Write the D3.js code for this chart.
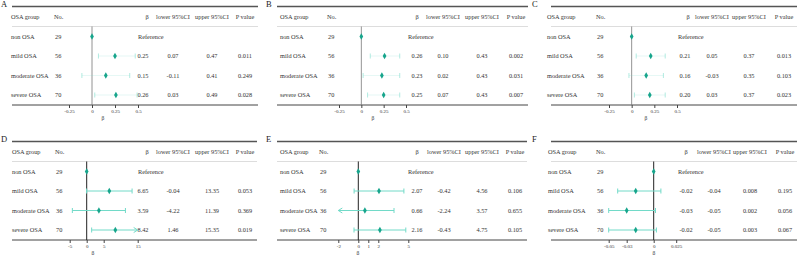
<!DOCTYPE html>
<html>
<head>
<meta charset="utf-8">
<script src="https://cdn.jsdelivr.net/npm/d3@7"></script>
<style>
  body { margin: 0; background: #fff; }
  svg text { font-family: "Liberation Serif", "Times New Roman", serif; fill: #333; }
</style>
</head>
<body>
<div id="chart"></div>
<script>
// ---- data ----
const groups = ["non OSA", "mild OSA", "moderate OSA", "severe OSA"];
const counts = [29, 56, 36, 70];
const panelNames = ["A", "B", "C", "D", "E", "F"];

// first row is the reference group (null)
const betaA = [null, 0.25, 0.15, 0.26];
const lowerA = [null, 0.07, -0.11, 0.03];
const upperA = [null, 0.47, 0.41, 0.49];
const pA = [null, "0.011", "0.249", "0.028"];

const betaB = [null, 0.26, 0.23, 0.25];
const lowerB = [null, 0.10, 0.02, 0.07];
const upperB = [null, 0.43, 0.43, 0.43];
const pB = [null, "0.002", "0.031", "0.007"];

const betaC = [null, 0.21, 0.16, 0.20];
const lowerC = [null, 0.05, -0.03, 0.03];
const upperC = [null, 0.37, 0.35, 0.37];
const pC = [null, "0.013", "0.103", "0.023"];

const betaD = [null, 6.65, 3.59, 8.42];
const lowerD = [null, -0.04, -4.22, 1.46];
const upperD = [null, 13.35, 11.39, 15.35];
const pD = [null, "0.053", "0.369", "0.019"];

const betaE = [null, 2.07, 0.66, 2.16];
const lowerE = [null, -0.42, -2.24, -0.43];
const upperE = [null, 4.56, 3.57, 4.75];
const pE = [null, "0.106", "0.655", "0.105"];

const betaF = [null, -0.02, -0.03, -0.02];
const lowerF = [null, -0.04, -0.05, -0.05];
const upperF = [null, 0.008, 0.002, 0.003];
const pF = [null, "0.195", "0.056", "0.067"];

const ticksAC = [-0.25, 0, 0.25, 0.5];
const ticksD = [-5, 0, 5, 15];
const ticksE = [-2, 0, 1, 2, 5];
const ticksF = [-0.05, -0.03, 0, 0.025];

const headers = ["OSA group", "No.", "β", "lower 95%CI", "upper 95%CI", "P value"];

// ---- layout (per panel) ----
const panels = [
  { name: "A", beta: betaA, lower: lowerA, upper: upperA, p: pA, ticks: ticksAC, domain: [-0.25, 0.5],
    ox: 0, oy: 0, fs: 6.3, rule: [12, 258], cGroup: 11, cNo: 54, range: [69, 138],
    hBeta: 147, cBeta: 143, cLow: 173, cUp: 212, cP: 245, refX: 138, titleX: 103, faint: true },
  { name: "B", beta: betaB, lower: lowerB, upper: upperB, p: pB, ticks: ticksAC, domain: [-0.25, 0.5],
    ox: 265, oy: 0, fs: 6.3, rule: [12, 263], cGroup: 15, cNo: 62, range: [74, 141],
    hBeta: 152, cBeta: 152, cLow: 178, cUp: 217, cP: 251, refX: 143, titleX: 108, faint: true },
  { name: "C", beta: betaC, lower: lowerC, upper: upperC, p: pC, ticks: ticksAC, domain: [-0.25, 0.5],
    ox: 531, oy: 0, fs: 6.3, rule: [20, 266], cGroup: 16, cNo: 65, range: [78, 146],
    hBeta: 157, cBeta: 154, cLow: 181, cUp: 218, cP: 253, refX: 147, titleX: 115, faint: true },
  { name: "D", beta: betaD, lower: lowerD, upper: upperD, p: pD, ticks: ticksD, domain: [-5, 15],
    ox: 0, oy: 135, fs: 6.3, rule: [12, 257], cGroup: 12, cNo: 55, range: [69.7, 137.7],
    hBeta: 147, cBeta: 143, cLow: 173, cUp: 212, cP: 245, refX: 138, titleX: 93, faint: false },
  { name: "E", beta: betaE, lower: lowerE, upper: upperE, p: pE, ticks: ticksE, domain: [-2, 5],
    ox: 265, oy: 135, fs: 6.3, rule: [12, 262], cGroup: 15, cNo: 54, range: [73.3, 143.3],
    hBeta: 152, cBeta: 152, cLow: 179, cUp: 217, cP: 250, refX: 143, titleX: 93, faint: false },
  { name: "F", beta: betaF, lower: lowerF, upper: upperF, p: pF, ticks: ticksF, domain: [-0.05, 0.025],
    ox: 531, oy: 135, fs: 6.3, rule: [20, 266], cGroup: 17, cNo: 65, range: [77.7, 145.2],
    hBeta: 155, cBeta: 155, cLow: 183, cUp: 219, cP: 254, refX: 147, titleX: 123, faint: false }
];

const W = 797, H = 255;
const rowY = [36.5, 56, 75.5, 95];
const topRule = 6.5, headY = 18.5, sepY = 26.5, bottomRule = 105;

const markColor = "#17a58c";
const ciColor = "#72dac8";

const svg = d3.select("#chart").append("svg")
  .attr("width", W)
  .attr("height", H);

function fmt(v) {
  return v.toFixed(2);
}

panels.forEach(cfg => {
  const g = svg.append("g").attr("transform", `translate(${cfg.ox},${cfg.oy})`);

  const x = d3.scaleLinear().domain(cfg.domain).range(cfg.range);

  // panel letter
  g.append("text")
    .attr("x", 1).attr("y", 6.5)
    .attr("font-size", 8.5)
    .style("fill", "#222")
    .text(cfg.name);

  // rules
  g.append("line")
    .attr("x1", cfg.rule[0]).attr("x2", cfg.rule[1])
    .attr("y1", topRule).attr("y2", topRule)
    .attr("stroke", "#555").attr("stroke-width", 1.4);
  g.append("line")
    .attr("x1", cfg.rule[0]).attr("x2", cfg.rule[1])
    .attr("y1", sepY).attr("y2", sepY)
    .attr("stroke", "#d4d4d4").attr("stroke-width", 0.8);
  g.append("line")
    .attr("x1", cfg.rule[0]).attr("x2", cfg.rule[1])
    .attr("y1", bottomRule).attr("y2", bottomRule)
    .attr("stroke", "#444").attr("stroke-width", 1);

  // headers
  const headPos = [
    { x: cfg.cGroup, a: "start" }, { x: cfg.cNo, a: "start" }, { x: cfg.hBeta, a: "middle" },
    { x: cfg.cLow, a: "middle" }, { x: cfg.cUp, a: "middle" }, { x: cfg.cP, a: "middle" }
  ];
  g.selectAll(".head")
    .data(headers)
    .enter()
    .append("text")
    .attr("class", "head")
    .attr("x", (d, i) => headPos[i].x)
    .attr("y", headY)
    .attr("text-anchor", (d, i) => headPos[i].a)
    .attr("font-size", cfg.fs)
    .text(d => d);

  // zero line
  g.append("line")
    .attr("x1", x(0)).attr("x2", x(0))
    .attr("y1", sepY).attr("y2", bottomRule)
    .attr("stroke", cfg.faint ? "#777" : "#222")
    .attr("stroke-width", cfg.faint ? 0.8 : 1);

  const rows = groups.map((grp, i) => ({
    grp, n: counts[i], beta: cfg.beta[i], lo: cfg.lower[i], hi: cfg.upper[i], p: cfg.p[i], y: rowY[i]
  }));

  // table text
  const rowG = g.selectAll(".row").data(rows).enter().append("g").attr("class", "row");
  rowG.append("text")
    .attr("x", cfg.cGroup).attr("y", d => d.y + 2.2)
    .attr("font-size", cfg.fs)
    .text(d => d.grp);
  rowG.append("text")
    .attr("x", cfg.cNo + 1).attr("y", d => d.y + 2.2)
    .attr("font-size", cfg.fs)
    .text(d => d.n);

  rowG.filter(d => d.beta === null).append("text")
    .attr("x", cfg.refX).attr("y", d => d.y + 2.2)
    .attr("font-size", cfg.fs)
    .text("Reference");

  const est = rowG.filter(d => d.beta !== null);
  [["beta", cfg.cBeta], ["lo", cfg.cLow], ["hi", cfg.cUp]].forEach(([k, cx]) => {
    est.append("text")
      .attr("x", cx).attr("y", d => d.y + 2.2)
      .attr("text-anchor", "middle")
      .attr("font-size", cfg.fs)
      .text(d => cfg.name === "F" && k === "hi" ? d3.format(".3f")(d[k]) : fmt(d[k]));
  });
  est.append("text")
    .attr("x", cfg.cP).attr("y", d => d.y + 2.2)
    .attr("text-anchor", "middle")
    .attr("font-size", cfg.fs)
    .text(d => d.p);

  // CI lines (clipped to axis domain, arrows when clipped)
  const lineOp = cfg.faint ? 0.18 : 1;
  const capOp = cfg.faint ? 0.55 : 1;
  est.each(function(d) {
    const sel = d3.select(this);
    const lo = Math.max(d.lo, cfg.domain[0]);
    const hi = Math.min(d.hi, cfg.domain[1]);
    sel.append("line")
      .attr("x1", x(lo)).attr("x2", x(hi))
      .attr("y1", d.y).attr("y2", d.y)
      .attr("stroke", ciColor).attr("stroke-width", 1)
      .attr("stroke-opacity", lineOp);
    [[d.lo, lo, -1], [d.hi, hi, 1]].forEach(([raw, v, dir]) => {
      if (raw !== v) {
        sel.append("path")
          .attr("d", `M${x(v) - dir * 4},${d.y - 2.5}L${x(v)},${d.y}L${x(v) - dir * 4},${d.y + 2.5}`)
          .attr("fill", "none")
          .attr("stroke", ciColor).attr("stroke-width", 1);
      } else {
        sel.append("line")
          .attr("x1", x(v)).attr("x2", x(v))
          .attr("y1", d.y - 2.5).attr("y2", d.y + 2.5)
          .attr("stroke", ciColor).attr("stroke-width", 1)
          .attr("stroke-opacity", capOp);
      }
    });
  });

  // point estimates (reference at 0)
  g.selectAll(".pt")
    .data(rows)
    .enter()
    .append("path")
    .attr("class", "pt")
    .attr("d", d3.symbol().type(d3.symbolDiamond).size(12))
    .attr("transform", d => `translate(${x(d.beta === null ? 0 : d.beta)},${d.y})`)
    .attr("fill", markColor);

  // x axis
  const axis = g.append("g")
    .attr("transform", `translate(0,${bottomRule})`)
    .call(d3.axisBottom(x).tickValues(cfg.ticks).tickSize(3).tickPadding(1.5)
      .tickFormat(d => String(d)));
  axis.select(".domain").remove();
  axis.selectAll(".tick line").attr("stroke", "#444");
  axis.selectAll(".tick text")
    .attr("font-size", 5)
    .style("font-family", "\"Liberation Serif\", serif")
    .attr("fill", "#333");

  g.append("text")
    .attr("x", cfg.titleX).attr("y", bottomRule + 14.5)
    .attr("text-anchor", "middle")
    .attr("font-size", 5.5)
    .text("β");
});
</script>
</body>
</html>
